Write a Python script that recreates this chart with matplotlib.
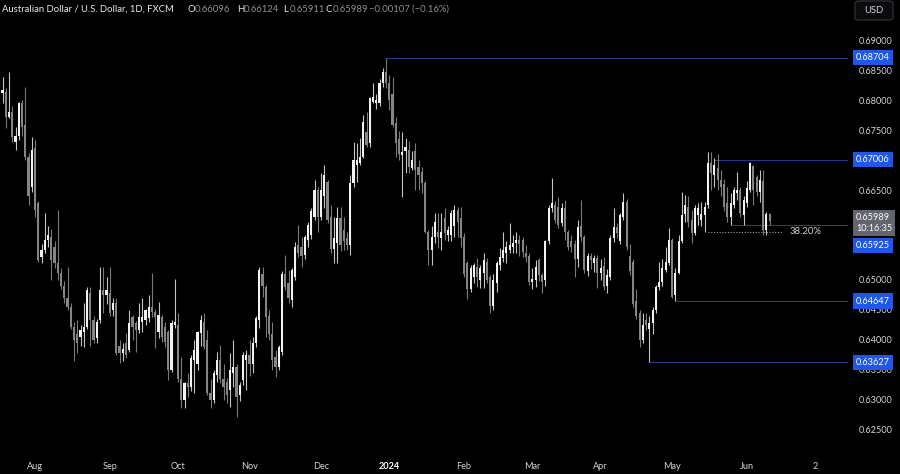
import numpy as np
import pandas as pd
import matplotlib
matplotlib.use('Agg')
import matplotlib.pyplot as plt
from matplotlib.patches import FancyBboxPatch

# daily AUD/USD candles (in pips, 0.6842 -> 6842), first bar 2023-07-17
opens = [6842, 6812, 6813, 6772, 6780, 6730, 6740, 6795, 6758, 6705, 6655, 6720, 6628, 6538, 6550, 6567, 6572, 6555, 6528, 6512,
         6490, 6470, 6455, 6422, 6410, 6405, 6413, 6422, 6478, 6433, 6403, 6433, 6483, 6475, 6478, 6450, 6462, 6390, 6378, 6395,
         6383, 6438, 6428, 6417, 6430, 6433, 6437, 6455, 6447, 6413, 6438, 6422, 6413, 6350, 6425, 6425, 6335, 6300, 6328, 6322,
         6367, 6360, 6412, 6430, 6400, 6312, 6300, 6342, 6367, 6335, 6330, 6317, 6345, 6355, 6308, 6333, 6367, 6375, 6360, 6395,
         6433, 6510, 6488, 6440, 6410, 6372, 6355, 6380, 6510, 6495, 6467, 6505, 6558, 6555, 6542, 6567, 6575, 6605, 6650, 6605,
         6640, 6663, 6605, 6552, 6562, 6603, 6583, 6570, 6558, 6662, 6692, 6695, 6705, 6747, 6728, 6797, 6795, 6795, 6828, 6847,
         6828, 6810, 6762, 6735, 6708, 6715, 6717, 6687, 6715, 6688, 6680, 6662, 6580, 6550, 6572, 6580, 6570, 6603, 6575, 6575,
         6590, 6617, 6603, 6572, 6528, 6485, 6505, 6522, 6500, 6512, 6530, 6505, 6457, 6495, 6525, 6537, 6545, 6550, 6555, 6562,
         6567, 6567, 6545, 6540, 6497, 6500, 6533, 6508, 6500, 6565, 6620, 6625, 6622, 6595, 6620, 6580, 6565, 6560, 6535, 6590,
         6572, 6515, 6540, 6528, 6537, 6512, 6523, 6490, 6505, 6570, 6588, 6565, 6605, 6630, 6540, 6530, 6465, 6445, 6400, 6433,
         6418, 6428, 6450, 6488, 6497, 6517, 6528, 6567, 6475, 6512, 6565, 6610, 6622, 6600, 6578, 6608, 6600, 6608, 6625, 6695,
         6675, 6687, 6667, 6660, 6628, 6605, 6625, 6645, 6650, 6608, 6628, 6650, 6690, 6672, 6647, 6665, 6583, 6610]
highs = [6845, 6838, 6820, 6847, 6790, 6755, 6797, 6800, 6822, 6712, 6738, 6733, 6632, 6560, 6612, 6590, 6585, 6565, 6617, 6520,
         6498, 6522, 6462, 6430, 6433, 6425, 6462, 6488, 6488, 6440, 6435, 6522, 6522, 6505, 6522, 6470, 6470, 6400, 6395, 6412,
         6450, 6442, 6432, 6462, 6470, 6452, 6475, 6512, 6452, 6463, 6442, 6430, 6417, 6433, 6502, 6445, 6372, 6330, 6345, 6375,
         6400, 6415, 6442, 6445, 6417, 6335, 6350, 6380, 6392, 6360, 6337, 6378, 6400, 6360, 6330, 6380, 6383, 6400, 6405, 6440,
         6522, 6522, 6492, 6450, 6430, 6383, 6392, 6515, 6542, 6517, 6520, 6563, 6592, 6572, 6575, 6597, 6620, 6667, 6655, 6678,
         6692, 6667, 6625, 6605, 6622, 6622, 6605, 6580, 6675, 6730, 6728, 6737, 6775, 6780, 6805, 6828, 6810, 6835, 6853, 6870,
         6842, 6838, 6772, 6748, 6747, 6737, 6732, 6715, 6728, 6700, 6688, 6665, 6583, 6590, 6612, 6612, 6612, 6620, 6590, 6617,
         6625, 6622, 6622, 6578, 6532, 6525, 6528, 6537, 6525, 6545, 6537, 6508, 6510, 6532, 6553, 6580, 6565, 6595, 6575, 6580,
         6575, 6572, 6558, 6545, 6520, 6533, 6537, 6512, 6567, 6625, 6670, 6632, 6638, 6628, 6633, 6583, 6575, 6567, 6600, 6633,
         6575, 6545, 6545, 6542, 6542, 6535, 6538, 6518, 6575, 6620, 6595, 6612, 6645, 6635, 6560, 6535, 6485, 6450, 6445, 6445,
         6440, 6455, 6492, 6530, 6535, 6555, 6587, 6570, 6520, 6575, 6647, 6642, 6640, 6617, 6625, 6628, 6630, 6630, 6713, 6714,
         6703, 6710, 6683, 6668, 6655, 6645, 6655, 6680, 6655, 6640, 6665, 6697, 6692, 6675, 6683, 6683, 6613, 6612]
lows = [6792, 6795, 6753, 6770, 6730, 6717, 6733, 6740, 6700, 6625, 6647, 6605, 6530, 6528, 6545, 6555, 6500, 6520, 6500, 6485,
        6462, 6450, 6418, 6365, 6378, 6390, 6388, 6418, 6390, 6395, 6395, 6428, 6445, 6460, 6440, 6440, 6375, 6362, 6365, 6370,
        6380, 6400, 6380, 6412, 6413, 6425, 6430, 6438, 6387, 6403, 6397, 6388, 6333, 6347, 6420, 6330, 6287, 6287, 6305, 6315,
        6312, 6350, 6390, 6385, 6308, 6287, 6295, 6330, 6328, 6300, 6295, 6288, 6322, 6272, 6298, 6325, 6317, 6340, 6345, 6388,
        6420, 6472, 6405, 6400, 6350, 6338, 6350, 6375, 6483, 6462, 6455, 6500, 6538, 6522, 6535, 6555, 6568, 6600, 6580, 6600,
        6620, 6595, 6545, 6528, 6528, 6548, 6550, 6550, 6542, 6655, 6663, 6692, 6703, 6722, 6722, 6795, 6785, 6790, 6822, 6820,
        6783, 6755, 6705, 6700, 6638, 6678, 6678, 6683, 6650, 6650, 6645, 6578, 6525, 6525, 6562, 6553, 6550, 6567, 6565, 6565,
        6572, 6572, 6555, 6505, 6468, 6480, 6495, 6488, 6487, 6487, 6495, 6445, 6450, 6480, 6517, 6530, 6528, 6545, 6545, 6545,
        6540, 6538, 6530, 6492, 6485, 6488, 6498, 6478, 6490, 6560, 6613, 6595, 6587, 6590, 6567, 6550, 6547, 6505, 6522, 6565,
        6512, 6507, 6518, 6513, 6487, 6500, 6483, 6478, 6500, 6563, 6570, 6560, 6600, 6550, 6508, 6455, 6435, 6388, 6395, 6417,
        6363, 6410, 6445, 6483, 6490, 6513, 6525, 6470, 6465, 6510, 6562, 6597, 6588, 6562, 6575, 6592, 6590, 6580, 6620, 6650,
        6655, 6650, 6640, 6615, 6597, 6592, 6620, 6633, 6605, 6592, 6622, 6647, 6625, 6640, 6630, 6575, 6575, 6591]
closes = [6813, 6817, 6772, 6780, 6738, 6740, 6795, 6755, 6705, 6640, 6717, 6617, 6533, 6550, 6567, 6575, 6533, 6528, 6512, 6490,
          6470, 6455, 6422, 6400, 6395, 6417, 6422, 6483, 6433, 6400, 6430, 6483, 6475, 6483, 6445, 6462, 6378, 6378, 6385, 6375,
          6428, 6422, 6417, 6438, 6438, 6450, 6455, 6447, 6438, 6442, 6405, 6397, 6350, 6428, 6430, 6335, 6300, 6328, 6322, 6370,
          6383, 6413, 6433, 6388, 6312, 6300, 6345, 6367, 6335, 6322, 6308, 6350, 6355, 6305, 6325, 6375, 6375, 6360, 6395, 6437,
          6517, 6490, 6438, 6410, 6367, 6355, 6388, 6510, 6488, 6470, 6517, 6555, 6545, 6540, 6572, 6592, 6615, 6650, 6605, 6650,
          6675, 6600, 6552, 6570, 6603, 6558, 6565, 6558, 6662, 6700, 6700, 6705, 6763, 6725, 6803, 6805, 6800, 6828, 6847, 6828,
          6800, 6758, 6728, 6710, 6713, 6722, 6688, 6700, 6683, 6675, 6662, 6580, 6550, 6572, 6597, 6572, 6580, 6578, 6583, 6612,
          6617, 6597, 6570, 6510, 6485, 6520, 6525, 6505, 6520, 6533, 6500, 6457, 6500, 6528, 6538, 6550, 6555, 6558, 6562, 6567,
          6560, 6547, 6538, 6497, 6502, 6522, 6508, 6497, 6565, 6620, 6628, 6600, 6592, 6620, 6580, 6555, 6555, 6535, 6588, 6572,
          6517, 6540, 6533, 6537, 6512, 6520, 6488, 6508, 6570, 6588, 6578, 6608, 6630, 6555, 6515, 6460, 6440, 6400, 6425, 6425,
          6428, 6450, 6488, 6497, 6520, 6530, 6567, 6472, 6512, 6565, 6608, 6625, 6597, 6578, 6620, 6620, 6610, 6622, 6695, 6678,
          6692, 6667, 6655, 6622, 6605, 6628, 6650, 6650, 6612, 6633, 6653, 6695, 6650, 6647, 6667, 6583, 6610, 6599]

# horizontal rays drawn on the chart: price level and the bar they start from
level_values = [0.68704, 0.67006, 0.65925, 0.64647, 0.63627]
level_starts = [119, 220, 225, 208, 200]
fib_level = 0.6580
fib_start = 218
fib_label = '38.20%'

last_price = 0.65989
countdown = '10:16:35'
month_labels = ['Aug', 'Sep', 'Oct', 'Nov', 'Dec', '2024', 'Feb', 'Mar', 'Apr', 'May', 'Jun', '2']
# scale labels that the price tags hide are left out (0.655, 0.660, 0.670)
price_ticks = [0.625, 0.630, 0.635, 0.640, 0.645, 0.650, 0.665, 0.675, 0.680, 0.685, 0.690]

o = np.array(opens) / 1e4
h = np.array(highs) / 1e4
l = np.array(lows) / 1e4
c = np.array(closes) / 1e4
n = len(o)
x = np.arange(n)

dates = pd.bdate_range('2023-07-17', periods=n + 40)
tick_idx = [int(np.searchsorted(dates, m)) for m in pd.date_range('2023-08-01', '2024-06-01', freq='MS')]
tick_idx.append(int(np.searchsorted(dates, pd.Timestamp('2024-07-02'))))

plt.rcParams['font.family'] = ['Lato', 'DejaVu Sans']
W, H = 900, 474
fig = plt.figure(figsize=(9, 4.74), dpi=100)
fig.patch.set_facecolor('black')
ax = fig.add_axes([0, 22 / H, 848 / W, 452 / H])
ax.set_facecolor('black')

XMAX = 261.15
ax.set_xlim(0.23, XMAX)
ax.set_ylim(0.621333, 0.696667)

# candles
up = c >= o
wick_col = ['#c4c4c4' if u else '#7a7a7a' for u in up]
body_col = ['#f2f2f2' if u else '#858585' for u in up]
ax.vlines(x, l, h, colors=wick_col, lw=0.8, zorder=2)
ax.bar(x, np.maximum(np.abs(c - o), 0.00012), bottom=np.minimum(o, c), width=0.62,
       color=body_col, linewidth=0, zorder=2)

# rays
for v, s in zip(level_values, level_starts):
    ax.hlines(v, s, XMAX, color='#2a3790', lw=0.8, zorder=1)
ax.hlines(fib_level, fib_start, 241.3, color='#a0a0a0', lw=0.8, linestyles=(0, (1, 1.5)), zorder=1)
ax.text(243.2, fib_level, fib_label, color='#d1d4dc', fontsize=6.8, va='center', ha='left')

for s in ax.spines.values():
    s.set_visible(False)

# axes ticks
ax.yaxis.tick_right()
ax.set_yticks(price_ticks, [f'{v:.5f}' for v in price_ticks])
ax.tick_params(axis='y', length=0, pad=8, labelsize=6.6, labelcolor='#d1d4dc')
ax.set_xticks(tick_idx, month_labels)
ax.tick_params(axis='x', length=0, pad=7, labelsize=6.6, labelcolor='#d1d4dc')
lbl = ax.get_xticklabels()[5]
lbl.set_fontweight('bold')
lbl.set_color('white')

# price tags on the right scale
shift = {0.65925: -21}
for v in level_values:
    ax.annotate(f'{v:.5f}', xy=(1, v), xycoords=('axes fraction', 'data'),
                xytext=(8, shift.get(v, 0)), textcoords='offset pixels',
                ha='left', va='center', color='white', fontsize=6.6, zorder=5,
                bbox=dict(boxstyle='square,pad=0.35', fc='#2157e8', ec='none'),
                annotation_clip=False)
ax.annotate(f'{last_price:.5f}\n{countdown}', xy=(1, last_price), xycoords=('axes fraction', 'data'),
            xytext=(8, -2), textcoords='offset pixels', ha='left', va='center',
            color='white', fontsize=6.6, linespacing=1.25, zorder=6,
            bbox=dict(boxstyle='square,pad=0.35', fc='#62656f', ec='none'),
            annotation_clip=False)

# header
def ftext(px, py, s, **kw):
    fig.text(px / W, 1 - py / H, s, va='center', fontsize=6.8, **kw)

ftext(2, 9.5, 'Australian Dollar / U.S. Dollar, 1D, FXCM', color='#e6e8ee')
val_col = '#8e9099'
for lx, letter, value in [(188, 'O', '0.66096'), (237, 'H', '0.66124'),
                          (283, 'L', '0.65911'), (326, 'C', '0.65989')]:
    ftext(lx, 9.5, letter, color='#e6e8ee')
    ftext(lx + 7, 9.5, value, color=val_col)
ftext(369, 9.5, '\u22120.00107 (\u22120.16%)', color=val_col)

fig.patches.append(FancyBboxPatch((855 / W, 1 - 20 / H), 38 / W, 19 / H,
                                  boxstyle='round,pad=0,rounding_size=0.005',
                                  transform=fig.transFigure, fc='#0b0b0b', ec='#2a2e39', lw=1))
ftext(874, 10.5, 'USD', color='#d1d4dc', ha='center')

fig.savefig('out.png', dpi=100, facecolor='black')
